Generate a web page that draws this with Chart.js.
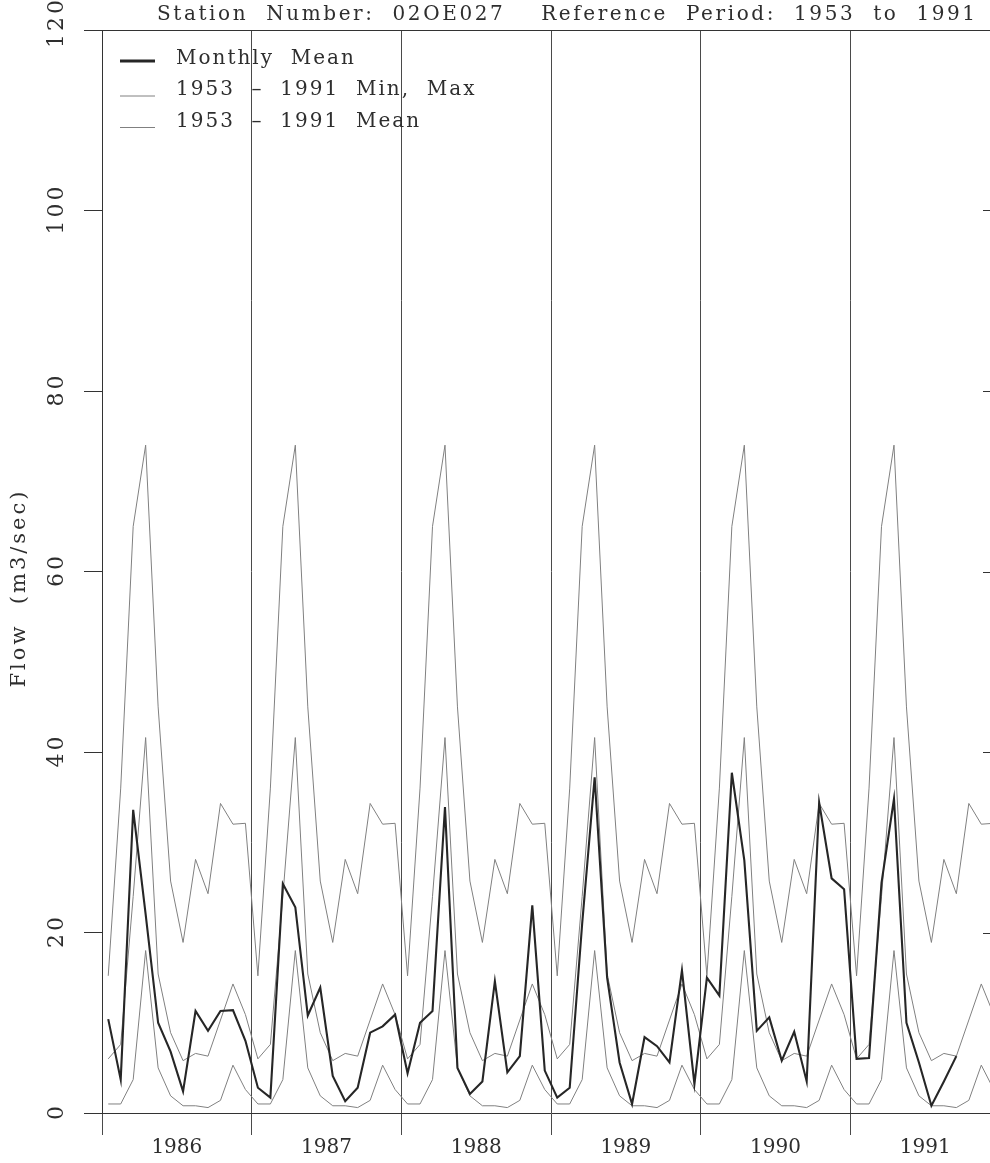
<!DOCTYPE html>
<html>
<head>
<meta charset="utf-8">
<title>Station 02OE027 - monthly flow</title>
<script src="https://cdn.jsdelivr.net/npm/chart.js@4.4.0/dist/chart.umd.min.js"></script>
<style>
    html, body { margin: 0; padding: 0; background: #fff; overflow: hidden; }
    canvas { display: block; }
</style>
</head>
<body>
<canvas id="myChart" width="1010" height="1163"></canvas>
<script>
// years on the x axis, 12 months each
const years = ['1986', '1987', '1988', '1989', '1990', '1991'];

// monthly mean flow (m3/sec), Jan..Dec
const flow1986 = [10.4, 3.7, 33.6, 22.0, 10.0, 6.8, 2.4, 11.3, 9.1, 11.3, 11.4, 8.0];
const flow1987 = [2.8, 1.7, 25.4, 22.8, 10.8, 13.9, 4.1, 1.3, 2.8, 8.9, 9.6, 10.9];
const flow1988 = [4.4, 10.0, 11.3, 33.9, 5.0, 2.1, 3.5, 14.6, 4.5, 6.3, 23.0, 4.7];
const flow1989 = [1.7, 2.8, 21.0, 37.2, 15.0, 5.6, 1.0, 8.4, 7.4, 5.6, 15.8, 3.2];
const flow1990 = [15.0, 13.0, 37.7, 28.0, 9.1, 10.6, 5.8, 9.0, 3.5, 34.4, 26.0, 24.8];
const flow1991 = [6.0, 6.1, 25.5, 34.8, 10.0, 5.6, 0.8, 3.5, 6.3];

// 1953 - 1991 statistics by calendar month
const periodMax = [15.2, 36.0, 65.0, 74.0, 45.0, 25.7, 18.9, 28.1, 24.3, 34.3, 32.0, 32.1];
const periodMean = [6.0, 7.6, 24.0, 41.6, 15.4, 8.9, 5.8, 6.6, 6.3, 10.3, 14.3, 10.9];
const periodMin = [1.0, 1.0, 3.7, 18.0, 5.0, 1.9, 0.8, 0.8, 0.6, 1.4, 5.3, 2.6];

const yTicks = [0, 20, 40, 60, 80, 100, 120];

const SERIF = '"DejaVu Serif", "Liberation Serif", serif';
const THIN = '#808080';
const THICK = '#262626';

// months are placed in the middle of their slot: Jan 1986 -> 0.5
const monthly = [flow1986, flow1987, flow1988, flow1989, flow1990, flow1991]
    .flat()
    .map((v, i) => ({ x: i + 0.5, y: v }));

// the long-term statistics repeat for every year shown
const everyYear = (arr) => years.flatMap((yr, k) =>
    arr.map((v, m) => ({ x: k * 12 + m + 0.5, y: v })));

const buildDataset = (label, data, color, width) => ({
    label: label,
    data: data,
    borderColor: color,
    borderWidth: width,
    pointRadius: 0,
    tension: 0,
    fill: false
});

// title, legend, rotated y labels and the frame bits chart.js doesn't draw
const frameText = {
    id: 'frameText',
    afterDraw(chart) {
        const { ctx, chartArea, scales } = chart;
        const y = scales.y;
        ctx.save();

        ctx.strokeStyle = '#333';
        ctx.lineWidth = 1;
        ctx.beginPath();
        ctx.moveTo(chartArea.left, chartArea.top + 0.5);
        ctx.lineTo(chartArea.right, chartArea.top + 0.5);
        yTicks.forEach(v => {
            const py = Math.round(y.getPixelForValue(v)) + 0.5;
            ctx.moveTo(chartArea.right - 17, py);
            ctx.lineTo(chartArea.right, py);
        });
        ctx.stroke();

        ctx.fillStyle = '#2e2e2e';
        ctx.textAlign = 'center';
        ctx.textBaseline = 'middle';
        ctx.font = '22px ' + SERIF;
        ctx.letterSpacing = '3px';
        yTicks.forEach(v => {
            ctx.save();
            ctx.translate(57, y.getPixelForValue(v) - (v === 120 ? 6 : 0));
            ctx.rotate(-Math.PI / 2);
            ctx.fillText(String(v), 1.5, 0);
            ctx.restore();
        });

        ctx.save();
        ctx.font = '21px ' + SERIF;
        ctx.letterSpacing = '3px';
        ctx.translate(20, 588);
        ctx.rotate(-Math.PI / 2);
        ctx.fillText('Flow  (m3/sec)', 0, 0);
        ctx.restore();

        ctx.font = '20px ' + SERIF;
        ctx.textAlign = 'left';
        ctx.textBaseline = 'alphabetic';
        ctx.letterSpacing = '2.6px';
        ctx.fillText('Station  Number:  02OE027    Reference  Period:  1953  to  1991', 157, 20);

        // legend
        ctx.letterSpacing = '2px';
        const rows = [
            { text: 'Monthly  Mean', color: THICK, width: 3, lineY: 61, baseY: 64 },
            { text: '1953  \u2013  1991  Min,  Max', color: THIN, width: 1, lineY: 96, baseY: 95 },
            { text: '1953  \u2013  1991  Mean', color: THIN, width: 1, lineY: 127.5, baseY: 127 }
        ];
        rows.forEach(r => {
            ctx.strokeStyle = r.color;
            ctx.lineWidth = r.width;
            ctx.beginPath();
            ctx.moveTo(120, r.lineY);
            ctx.lineTo(155, r.lineY);
            ctx.stroke();
            ctx.fillText(r.text, 176, r.baseY);
        });

        ctx.restore();
    }
};

let ctx = document.getElementById('myChart').getContext('2d');
let myChart = new Chart(ctx, {
    type: 'line',
    data: {
        datasets: [
            buildDataset('Monthly Mean', monthly, THICK, 2.1),
            buildDataset('1953 - 1991 Max', everyYear(periodMax), THIN, 1),
            buildDataset('1953 - 1991 Mean', everyYear(periodMean), THIN, 1),
            buildDataset('1953 - 1991 Min', everyYear(periodMin), THIN, 1)
        ]
    },
    options: {
        responsive: false,
        animation: false,
        events: [],
        layout: { padding: { top: 30, right: 10, left: 0, bottom: 0 } },
        plugins: {
            legend: { display: false },
            tooltip: { enabled: false }
        },
        scales: {
            x: {
                type: 'linear',
                min: 0,
                max: years.length * 12,
                afterBuildTicks: (scale) => {
                    const t = [];
                    for (let v = 0; v <= years.length * 12; v += 6) t.push({ value: v });
                    scale.ticks = t;
                },
                afterFit: (scale) => { scale.height = 50; },
                grid: {
                    color: (c) => (c.tick && c.tick.value % 12 === 0) ? '#4a4a4a' : 'rgba(0,0,0,0)',
                    lineWidth: 1,
                    tickLength: 22
                },
                border: { display: true, color: '#333', width: 1 },
                ticks: {
                    autoSkip: false,
                    maxRotation: 0,
                    padding: 1,
                    color: '#2e2e2e',
                    font: { family: SERIF, size: 20 },
                    callback: (v) => v % 12 === 6 ? years[(v - 6) / 12] : ''
                }
            },
            y: {
                type: 'linear',
                min: 0,
                max: 120,
                afterBuildTicks: (scale) => {
                    scale.ticks = yTicks.map(v => ({ value: v }));
                },
                afterFit: (scale) => { scale.width = 102; },
                grid: {
                    drawOnChartArea: false,
                    color: '#333',
                    tickLength: 18
                },
                border: { display: true, color: '#333', width: 1 },
                ticks: { display: false }
            }
        }
    },
    plugins: [frameText]
});
</script>
</body>
</html>
